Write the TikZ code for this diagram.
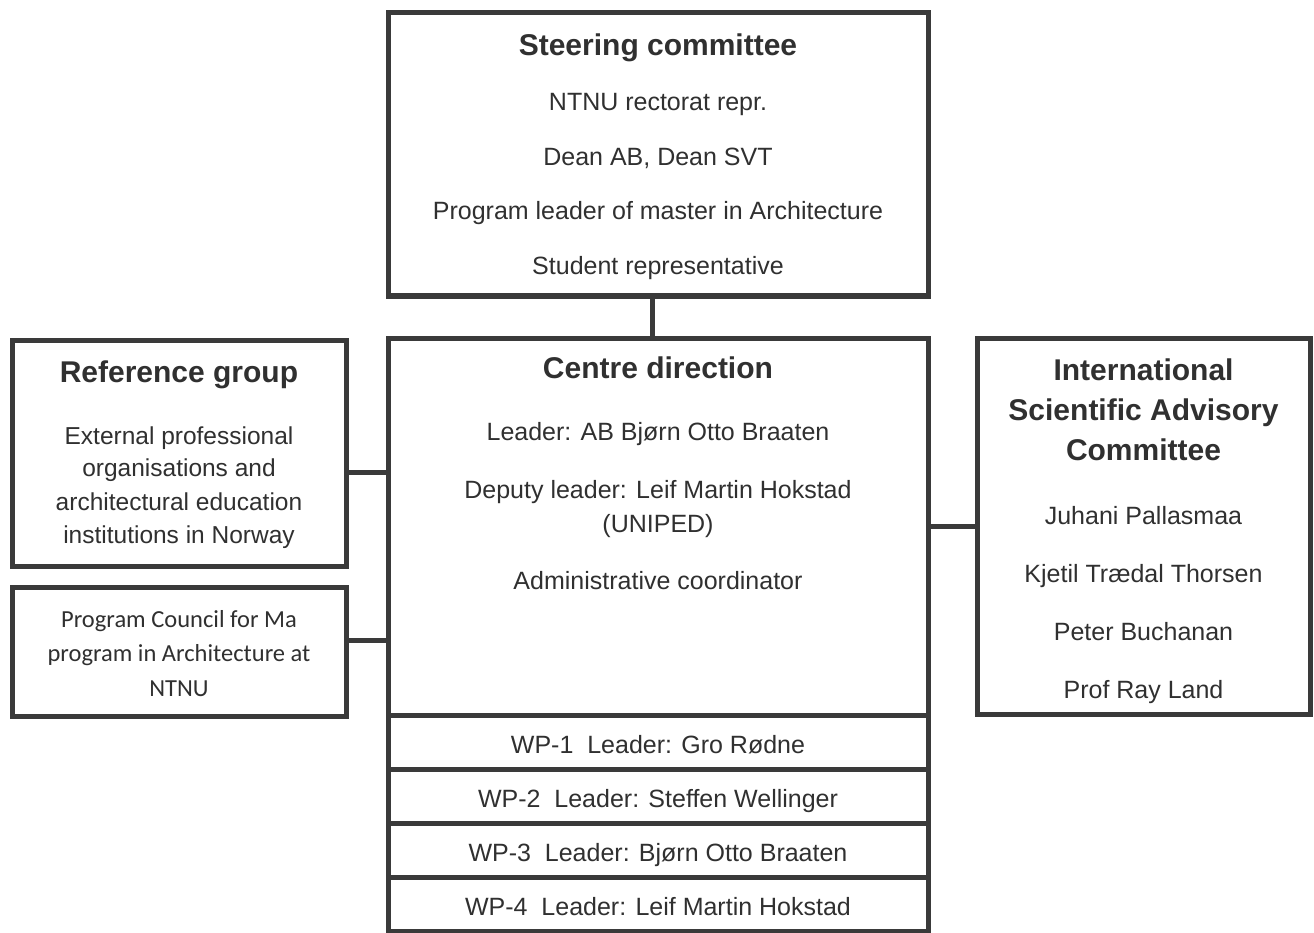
\documentclass[tikz,border=0pt]{standalone}
\usepackage{fontspec}
\setmainfont{Liberation Sans}
\newfontfamily\councilfont{Carlito}
\usetikzlibrary{positioning}

\definecolor{frame}{HTML}{3A3A3A}
\definecolor{ink}{HTML}{303030}

\tikzset{
	orgbox/.style = {draw=frame, line width=5pt, fill=white, inner sep=0pt},
	heading/.style = {anchor=mid, yshift=-8pt, text=ink, font=\fontsize{30}{36}\selectfont\bfseries},
	entry/.style = {anchor=mid, yshift=-7pt, text=ink, font=\fontsize{25}{30}\selectfont},
	wpbox/.style = {orgbox, minimum width=540, minimum height=54, text=ink,
		text height=28, text depth=5, font=\fontsize{25}{30}\selectfont},
	link/.style = {draw=frame, line width=5pt}
}

\begin{document}
\begin{tikzpicture}[x=1pt, y=-1pt]
	\useasboundingbox (0,0) rectangle (1314,933);
	\fill[white] (0,0) rectangle (1314,933);

	% boxes
	\node[orgbox, minimum width=540, minimum height=283] (steer) at (658,154.5) {};
	\node[orgbox, minimum width=540, minimum height=377] (centre) at (658,526.5) {};
	\node[orgbox, minimum width=334, minimum height=226] (refgrp) at (179,453) {};
	\node[orgbox, minimum width=334, minimum height=129] (council) at (179,651.5) {};
	\node[orgbox, minimum width=333, minimum height=376] (isac) at (1143.5,526) {};

	% work packages
	\node[wpbox, below=-5pt of centre] (wp1) {WP-1~ Leader: Gro Rødne};
	\node[wpbox, below=-5pt of wp1] (wp2) {WP-2~ Leader: Steffen Wellinger};
	\node[wpbox, below=-5pt of wp2] (wp3) {WP-3~ Leader: Bjørn Otto Braaten};
	\node[wpbox, below=-5pt of wp3] (wp4) {WP-4~ Leader: Leif Martin Hokstad};

	% steering committee
	\node[heading] (steer-t) at (658,45) {Steering committee};
	\node[entry] (steer-1) at (658,101) {NTNU rectorat repr.};
	\node[entry] (steer-2) at (658,156) {Dean AB, Dean SVT};
	\node[entry] (steer-3) at (658,210) {Program leader of master in Architecture};
	\node[entry] (steer-4) at (658,265) {Student representative};

	% centre direction
	\node[heading] (centre-t) at (658,368) {Centre direction};
	\node[entry] (centre-1) at (658,431) {Leader: AB Bjørn Otto Braaten};
	\node[entry] (centre-2) at (658,489) {Deputy leader: Leif Martin Hokstad};
	\node[entry] (centre-3) at (658,523) {(UNIPED)};
	\node[entry] (centre-4) at (658,580) {Administrative coordinator};

	% reference group
	\node[heading] (refgrp-t) at (179,372) {Reference group};
	\node[entry, font=\fontsize{24.5}{30}\selectfont] (refgrp-1) at (179,435) {External professional};
	\node[entry, font=\fontsize{24.5}{30}\selectfont] (refgrp-2) at (179,467) {organisations and};
	\node[entry, font=\fontsize{24.5}{30}\selectfont] (refgrp-3) at (179,501) {architectural education};
	\node[entry, font=\fontsize{24.5}{30}\selectfont] (refgrp-4) at (179,534) {institutions in Norway};

	% program council
	\node[entry, font=\councilfont\fontsize{24.5}{30}\selectfont] (council-1) at (179,618) {Program Council for Ma};
	\node[entry, font=\councilfont\fontsize{24.5}{30}\selectfont] (council-2) at (179,652) {program in Architecture at};
	\node[entry, font=\councilfont\fontsize{24.5}{30}\selectfont] (council-3) at (179,687) {NTNU};

	% advisory committee
	\node[heading] (isac-t1) at (1143.5,370) {International};
	\node[heading] (isac-t2) at (1143.5,410) {Scientific Advisory};
	\node[heading] (isac-t3) at (1143.5,450) {Committee};
	\node[entry] (isac-1) at (1143.5,515) {Juhani Pallasmaa};
	\node[entry] (isac-2) at (1143.5,573) {Kjetil Trædal Thorsen};
	\node[entry] (isac-3) at (1143.5,631) {Peter Buchanan};
	\node[entry] (isac-4) at (1143.5,689) {Prof Ray Land};

	% connections
	\draw[link] ([xshift=-6pt]steer.south) -- ([xshift=-6pt]centre.north);
	\draw[link] ([yshift=-19pt]refgrp.east) -- ([yshift=-19pt]refgrp.east -| centre.west);
	\draw[link] ([yshift=11pt]council.east) -- ([yshift=11pt]council.east -| centre.west);
	\draw[link] (centre.east) -- (centre.east -| isac.west);
\end{tikzpicture}
\end{document}
